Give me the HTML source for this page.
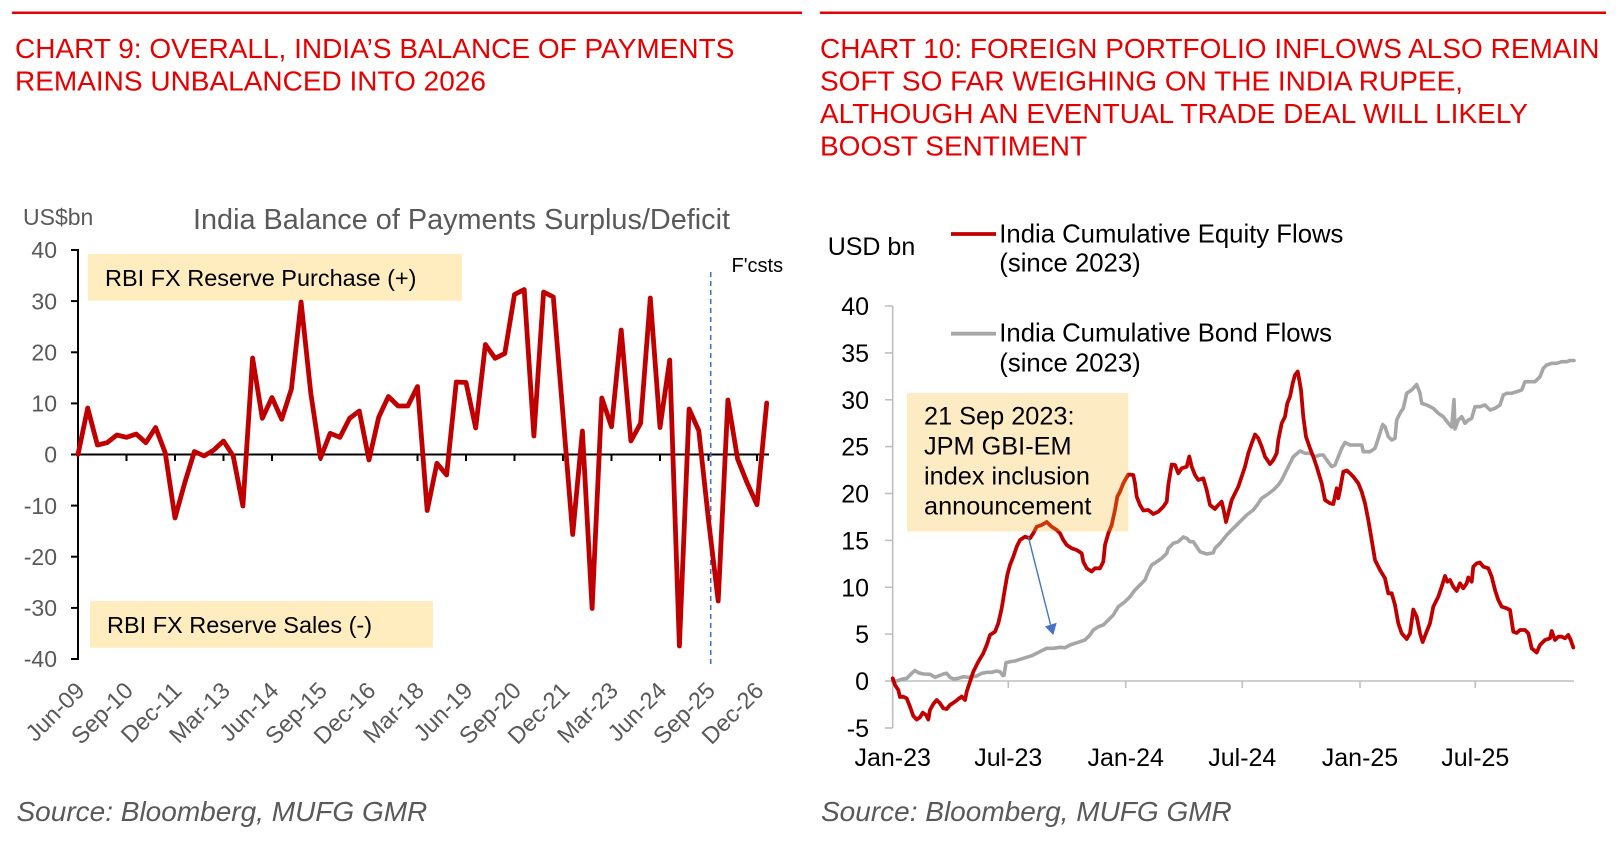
<!DOCTYPE html>
<html>
<head>
<meta charset="utf-8">
<style>
  html, body { margin: 0; padding: 0; background: #ffffff; }
  svg { display: block; }
  text { font-family: "Liberation Sans", Arial, sans-serif; }
</style>
</head>
<body>
<svg width="1619" height="845" viewBox="0 0 1619 845" xmlns="http://www.w3.org/2000/svg">
  <rect x="0" y="0" width="1619" height="845" fill="#ffffff"/>

  <!-- ===== Header rules & titles ===== -->
  <rect x="12" y="11.5" width="790" height="2.5" fill="#E60000"/>
  <rect x="820" y="11.5" width="786" height="2.5" fill="#E60000"/>

  <g fill="#E60000" font-size="28">
    <text x="15" y="58">CHART 9: OVERALL, INDIA’S BALANCE OF PAYMENTS</text>
    <text x="15" y="90.5">REMAINS UNBALANCED INTO 2026</text>
    <text x="820" y="58">CHART 10: FOREIGN PORTFOLIO INFLOWS ALSO REMAIN</text>
    <text x="820" y="90.5">SOFT SO FAR WEIGHING ON THE INDIA RUPEE,</text>
    <text x="820" y="123">ALTHOUGH AN EVENTUAL TRADE DEAL WILL LIKELY</text>
    <text x="820" y="155.5">BOOST SENTIMENT</text>
  </g>

  <!-- ===== Chart 9 ===== -->
  <text x="23" y="225" font-size="23" fill="#595959">US$bn</text>
  <text x="193" y="229" font-size="28.5" fill="#595959" textLength="537" lengthAdjust="spacingAndGlyphs">India Balance of Payments Surplus/Deficit</text>

  <!-- boxes -->
  <rect x="88" y="254" width="374" height="46.7" fill="#FFEDC0"/>
  <text x="105" y="286" font-size="23.5" fill="#000">RBI FX Reserve Purchase (+)</text>
  <rect x="90" y="601" width="343" height="46.7" fill="#FFEDC0"/>
  <text x="107" y="633" font-size="23.5" fill="#000">RBI FX Reserve Sales (-)</text>

  <!-- y labels -->
  <g font-size="23" fill="#595959" text-anchor="end">
    <text x="57" y="258.2">40</text>
    <text x="57" y="309.3">30</text>
    <text x="57" y="360.5">20</text>
    <text x="57" y="411.6">10</text>
    <text x="57" y="462.7">0</text>
    <text x="57" y="513.8">-10</text>
    <text x="57" y="564.9">-20</text>
    <text x="57" y="616.1">-30</text>
    <text x="57" y="667.2">-40</text>
  </g>

  <!-- axes -->
  <g stroke="#000" stroke-width="2" fill="none">
    <line x1="78" y1="249" x2="78" y2="660"/>
    <line x1="71" y1="250" x2="78" y2="250"/>
    <line x1="71" y1="301.1" x2="78" y2="301.1"/>
    <line x1="71" y1="352.3" x2="78" y2="352.3"/>
    <line x1="71" y1="403.4" x2="78" y2="403.4"/>
    <line x1="71" y1="454.5" x2="78" y2="454.5"/>
    <line x1="71" y1="505.6" x2="78" y2="505.6"/>
    <line x1="71" y1="556.7" x2="78" y2="556.7"/>
    <line x1="71" y1="607.9" x2="78" y2="607.9"/>
    <line x1="71" y1="659" x2="78" y2="659"/>
    <line x1="78" y1="454.5" x2="769" y2="454.5"/>
    <line x1="126.5" y1="454.5" x2="126.5" y2="461"/>
    <line x1="175" y1="454.5" x2="175" y2="461"/>
    <line x1="223.5" y1="454.5" x2="223.5" y2="461"/>
    <line x1="272" y1="454.5" x2="272" y2="461"/>
    <line x1="320.5" y1="454.5" x2="320.5" y2="461"/>
    <line x1="369" y1="454.5" x2="369" y2="461"/>
    <line x1="417.5" y1="454.5" x2="417.5" y2="461"/>
    <line x1="466" y1="454.5" x2="466" y2="461"/>
    <line x1="514.5" y1="454.5" x2="514.5" y2="461"/>
    <line x1="563" y1="454.5" x2="563" y2="461"/>
    <line x1="611.5" y1="454.5" x2="611.5" y2="461"/>
    <line x1="660" y1="454.5" x2="660" y2="461"/>
    <line x1="708.5" y1="454.5" x2="708.5" y2="461"/>
    <line x1="757" y1="454.5" x2="757" y2="461"/>
  </g>

  <!-- forecast divider -->
  <line x1="710.7" y1="272" x2="710.7" y2="665" stroke="#4472C4" stroke-width="1.6" stroke-dasharray="5,4"/>
  <text x="731.5" y="272" font-size="20" fill="#000">F'csts</text>

  <!-- series -->
  <polyline fill="none" stroke="#C00000" stroke-width="4.8" stroke-linejoin="round" stroke-linecap="round"
    points="78,454.5 87.7,408 97.4,445 107.1,442.7 116.8,435 126.5,437.3 136.2,434 145.9,442.7 155.6,427.5 165.3,453 175,518 184.7,483 194.4,451.5 204.1,456 213.8,450 223.5,441 233.2,456 242.9,506 252.6,358 262.3,418.3 272,397.5 281.7,419.3 291.4,389 301.1,302 310.8,393.3 320.5,458 330.2,433.3 339.9,437.3 349.6,418.3 359.3,411 369,460 378.7,417.3 388.4,396.5 398.1,406 407.8,406 417.5,386.5 427.2,510.5 436.9,463.3 446.6,475 456.3,382 466,382.5 475.7,428 485.4,344.5 495.1,358.3 504.8,353.5 514.5,294.5 524.2,289.5 533.9,436 543.6,292 553.3,297 563,415 572.7,534.5 582.4,431 592.1,608.5 601.8,398 611.5,426.7 621.2,330 630.9,441 640.6,423.3 650.3,298 660,427.5 669.7,360 679.4,646 689.1,409 698.8,430.7 708.5,520 718.2,601 727.9,400 737.6,459 747.3,483.3 757,504.7 766.7,403"/>

  <!-- x labels rotated -->
  <g font-size="23.5" fill="#595959" text-anchor="end">
    <text transform="translate(86,692) rotate(-45)">Jun-09</text>
    <text transform="translate(134.5,692) rotate(-45)">Sep-10</text>
    <text transform="translate(183,692) rotate(-45)">Dec-11</text>
    <text transform="translate(231.5,692) rotate(-45)">Mar-13</text>
    <text transform="translate(280,692) rotate(-45)">Jun-14</text>
    <text transform="translate(328.5,692) rotate(-45)">Sep-15</text>
    <text transform="translate(377,692) rotate(-45)">Dec-16</text>
    <text transform="translate(425.5,692) rotate(-45)">Mar-18</text>
    <text transform="translate(474,692) rotate(-45)">Jun-19</text>
    <text transform="translate(522.5,692) rotate(-45)">Sep-20</text>
    <text transform="translate(571,692) rotate(-45)">Dec-21</text>
    <text transform="translate(619.5,692) rotate(-45)">Mar-23</text>
    <text transform="translate(668,692) rotate(-45)">Jun-24</text>
    <text transform="translate(716.5,692) rotate(-45)">Sep-25</text>
    <text transform="translate(765,692) rotate(-45)">Dec-26</text>
  </g>

  <text x="16.5" y="821" font-size="28" font-style="italic" fill="#595959">Source: Bloomberg, MUFG GMR</text>

  <!-- ===== Chart 10 ===== -->
  <text x="827.7" y="255" font-size="25" fill="#000">USD bn</text>

  <!-- legend -->
  <line x1="951" y1="234" x2="996" y2="234" stroke="#C00000" stroke-width="3.8"/>
  <text x="999.3" y="242.7" font-size="25.7" fill="#000">India Cumulative Equity Flows</text>
  <text x="999.3" y="271.7" font-size="25.7" fill="#000">(since 2023)</text>
  <line x1="951" y1="333.7" x2="996" y2="333.7" stroke="#A6A6A6" stroke-width="3.8"/>
  <text x="999.3" y="341.7" font-size="25.7" fill="#000">India Cumulative Bond Flows</text>
  <text x="999.3" y="371.7" font-size="25.7" fill="#000">(since 2023)</text>

  <!-- y labels -->
  <g font-size="25" fill="#000" text-anchor="end">
    <text x="869" y="315">40</text>
    <text x="869" y="361.9">35</text>
    <text x="869" y="408.75">30</text>
    <text x="869" y="455.6">25</text>
    <text x="869" y="502.5">20</text>
    <text x="869" y="549.4">15</text>
    <text x="869" y="596.25">10</text>
    <text x="869" y="643.1">5</text>
    <text x="869" y="690">0</text>
    <text x="869" y="736.9">-5</text>
  </g>

  <!-- axes -->
  <g stroke="#BFBFBF" stroke-width="1.6" fill="none">
    <line x1="892.7" y1="306" x2="892.7" y2="728"/>
    <line x1="885" y1="306" x2="892.7" y2="306"/>
    <line x1="885" y1="352.9" x2="892.7" y2="352.9"/>
    <line x1="885" y1="399.75" x2="892.7" y2="399.75"/>
    <line x1="885" y1="446.6" x2="892.7" y2="446.6"/>
    <line x1="885" y1="493.5" x2="892.7" y2="493.5"/>
    <line x1="885" y1="540.4" x2="892.7" y2="540.4"/>
    <line x1="885" y1="587.25" x2="892.7" y2="587.25"/>
    <line x1="885" y1="634.1" x2="892.7" y2="634.1"/>
    <line x1="885" y1="681" x2="892.7" y2="681"/>
    <line x1="885" y1="728" x2="892.7" y2="728"/>
    <line x1="892.7" y1="681" x2="1574" y2="681"/>
    <line x1="1008.3" y1="681" x2="1008.3" y2="688"/>
    <line x1="1125.7" y1="681" x2="1125.7" y2="688"/>
    <line x1="1242.3" y1="681" x2="1242.3" y2="688"/>
    <line x1="1360" y1="681" x2="1360" y2="688"/>
    <line x1="1475.3" y1="681" x2="1475.3" y2="688"/>
  </g>

  <!-- bond series (grey) -->
  <polyline fill="none" stroke="#A6A6A6" stroke-width="3.6" stroke-linejoin="round" stroke-linecap="round"
    points="892.7,681 896.7,681 901.7,679.3 906.7,678.3 911.7,673.3 915,670.5 918.3,672.7 923.3,674 930,674.3 935,677.3 938.3,676 943.3,674 946.7,673.3 950,677.3 953.3,679 958.3,678.3 963.3,676.7 968.3,677.3 973.3,676.7 976.7,676 981.7,673.3 986.7,672.3 991.7,672.3 996.7,671 1000,671.7 1002.7,675.5 1004,675.5 1006,662.7 1010,661.7 1015,661 1020,659.3 1026.7,657.3 1031.7,655.7 1036.7,653.3 1041.7,650.7 1046.7,648.3 1053.3,648.3 1060,647.3 1065,647.7 1070,645 1075,643.3 1080,641.7 1085,640 1090,635 1093.3,630 1098.3,626.7 1103.3,625 1108.3,620 1113.3,615 1118.3,606.7 1125,601.7 1130,596.7 1135,590 1140,585 1145,580 1148.3,571.7 1151.7,565 1156.7,561.7 1161.7,558.3 1166.7,553.3 1168.3,548.3 1173.3,543.3 1178.3,541.7 1183.3,537 1186.7,538.3 1190,541.7 1193.3,541.7 1196.7,546.7 1200,551.7 1206.7,554 1213.3,552.7 1215,548.3 1220,543.3 1226.7,535 1233.3,528.3 1240,521.7 1246.7,515 1253.3,510 1258.3,503.3 1261.7,498.3 1266.7,495 1273.3,490 1278.3,485 1281.7,480 1285,473.3 1288.3,466.7 1293.3,456.7 1300,451 1305,453.3 1310,453.3 1315,456.7 1320,455 1323.3,455 1326.7,460 1331.7,466.7 1335,465 1338.3,456.7 1341.7,448.3 1345,442.5 1350,445 1356.7,445 1361.7,445 1363.3,451.7 1370,451.7 1375,448.3 1378.3,438.3 1382.7,424.5 1385,426.7 1388.3,436.7 1391.7,440 1395,438.3 1396.7,420 1400,413.3 1403.3,408.3 1406.7,393.3 1411.7,390 1416.7,384.5 1420,393.3 1421.7,403.3 1426.7,405 1433.3,408.3 1438.3,413.3 1443.3,416.7 1448.3,423.3 1451.7,427 1454,399.5 1455,429 1458.3,420 1461.7,416.7 1465,423.3 1468.3,420 1471.7,418.3 1475,406.7 1480,406.7 1485,405 1490,410 1495,408.3 1500,405 1503.3,395 1506.7,393.3 1511.7,393.3 1516.7,391.7 1521.7,390 1525,381.7 1530,381.7 1535,381.7 1540,376.7 1543.3,368.3 1546.7,365 1551.7,363.3 1556.7,363.3 1561.7,361.7 1566.7,361.7 1570,360.5 1574,360.5"/>

  <!-- equity series (red) -->
  <polyline fill="none" stroke="#C00000" stroke-width="3.8" stroke-linejoin="round" stroke-linecap="round"
    points="892.7,678.3 895,685 898.3,690 900,697 903.3,696.7 906.7,698.3 910,706.7 913.3,716 916.7,719.5 920,717.3 922.7,712.7 926,715 928.3,719.5 930,710 933.3,704 936.7,700 940,703.3 943.3,708.3 946.7,709 950,705 955,701.7 959.3,698.3 961.7,696.5 965,700 966.7,691.7 970,681.7 973.3,671.7 978.3,661.7 983.3,653.3 986.7,645 990,635 995,631.7 998.3,623.3 1001.7,608.3 1005,588.3 1007.3,575 1010,565 1013.3,556.7 1016.7,546.7 1020,540 1025,536.7 1030,538.3 1033.3,533.3 1036.7,526.7 1041.7,525 1046.7,522 1051.7,526.7 1056.7,530 1060,533.3 1063.3,540 1066.7,545 1071.7,548.3 1076.7,550 1081.7,553.3 1083.3,561.7 1086.7,568.3 1091.7,571.5 1095,568.3 1100,568.3 1103.3,561.7 1105,545 1108.3,533.3 1111.7,525 1115,510 1117.3,496.7 1120,491.7 1123.3,483.3 1128.3,474.5 1133.3,475 1135,483.3 1136.7,496.7 1140,505 1143.3,510.5 1148.3,510 1153.3,514 1158.3,511.7 1163.3,506.7 1166.7,501.7 1168.3,485 1171.7,464.5 1175,465 1178.3,473.3 1181.7,468.3 1186.7,466.7 1189.3,456.5 1191.7,466.7 1195,475 1198.3,480 1203.3,478.3 1206.7,490 1210,505 1215,509 1216.7,506.7 1221.7,501.7 1224,511.7 1226,522 1228.3,513.3 1231.7,500 1235,493.3 1238.3,486.7 1245,466.7 1248.3,453.3 1251.7,443.3 1255,434.5 1258.3,438.3 1261.7,446.7 1265,456.7 1270,464 1273.3,460 1276.7,453.3 1278.3,440 1281.7,423.3 1285,416.7 1287.3,403.3 1290,396.7 1292.7,383.3 1295,375 1297.7,371.5 1299.3,380 1301,390 1303.3,416.7 1306,436.7 1310,448.3 1313.3,456.7 1316.7,466.7 1321.7,483.3 1325,500 1330,503.3 1333.3,504 1336.7,488.3 1338.3,498.3 1340,490 1343.3,471.7 1346.7,470.5 1350,473.3 1353.3,476.7 1358.3,483.3 1361.7,491.7 1365,503.3 1368.3,520 1371.7,540 1375,560 1380,570 1385,578.3 1388.3,593.3 1391.7,593.3 1395,605 1398.3,623.3 1401.7,633.3 1406.7,639 1410,633.3 1413.3,609.5 1416.7,616.7 1420,633.3 1422.7,642 1426,633.3 1430,623.3 1433.3,606.7 1438.3,596.7 1441.7,586.7 1445,576 1447.3,581.7 1450,580 1453.3,586.7 1456.7,591 1460,583.3 1463.3,588.3 1466.7,583.3 1468.3,577.5 1471.7,581.7 1473.3,566.7 1476.7,563.3 1480,562.5 1483.3,566.7 1488.3,568.3 1491.7,576.7 1495,590 1498.3,600 1501.7,606.7 1506.7,608.3 1510,610 1513.3,631.7 1516.7,633 1520,630 1525,630 1528.3,633.3 1531.7,648.3 1536.7,652.5 1540,645 1545,640 1550,638.3 1551.7,631 1555,640 1558.3,636.7 1561.7,636.7 1565,638.3 1568.3,635 1570.7,640 1573.3,647.5"/>

  <!-- annotation box (semi-transparent over series) -->
  <rect x="907" y="393" width="221.3" height="138.5" fill="rgb(249,186,40)" fill-opacity="0.28"/>
  <g font-size="25.3" fill="#000">
    <text x="924" y="424.5">21 Sep 2023:</text>
    <text x="924" y="454.5">JPM GBI-EM</text>
    <text x="924" y="484.5">index inclusion</text>
    <text x="924" y="514.5">announcement</text>
  </g>

  <!-- arrow -->
  <line x1="1028.3" y1="536.7" x2="1050.5" y2="624.5" stroke="#4472C4" stroke-width="1.4"/>
  <polygon points="1053.3,635 1045,626.5 1056.7,622.7" fill="#4472C4"/>

  <!-- x labels -->
  <g font-size="25" fill="#000" text-anchor="middle">
    <text x="892.7" y="766">Jan-23</text>
    <text x="1008.3" y="766">Jul-23</text>
    <text x="1125.7" y="766">Jan-24</text>
    <text x="1242.3" y="766">Jul-24</text>
    <text x="1360" y="766">Jan-25</text>
    <text x="1475.3" y="766">Jul-25</text>
  </g>

  <text x="821" y="821" font-size="28" font-style="italic" fill="#595959">Source: Bloomberg, MUFG GMR</text>
</svg>
</body>
</html>
